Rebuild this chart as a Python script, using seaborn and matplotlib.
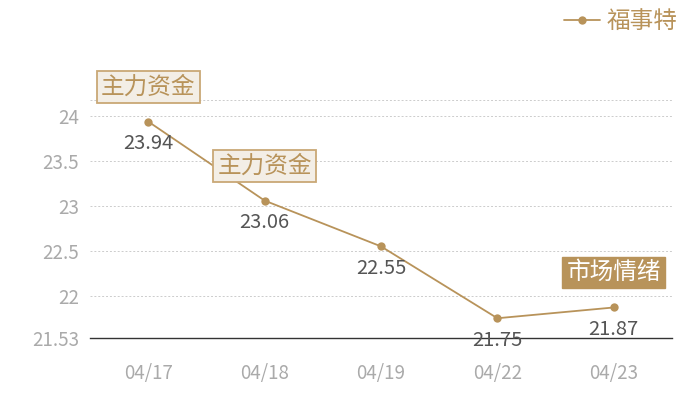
import matplotlib
matplotlib.use("Agg")
import matplotlib.pyplot as plt
import seaborn as sns
import pandas as pd

dates = ["04/17", "04/18", "04/19", "04/22", "04/23"]
prices = [23.94, 23.06, 22.55, 21.75, 21.87]
series_name = "福事特"
yticks = [21.53, 22, 22.5, 23, 23.5, 24]
ytick_labels = ["21.53", "22", "22.5", "23", "23.5", "24"]
events = [("04/17", "主力资金", "light"), ("04/18", "主力资金", "light"), ("04/23", "市场情绪", "dark")]

sns.set_theme(style="white")
plt.rcParams['font.family'] = ['Noto Sans CJK SC', 'DejaVu Sans']

GOLD = "#b8935a"
df = pd.DataFrame({"date": dates, "price": prices, "name": series_name})

fig = plt.figure(figsize=(7, 4), dpi=100)
ax = fig.add_axes([90/700, 1-338/400, 582/700, 238/400])

sns.lineplot(data=df, x="date", y="price", ax=ax, color=GOLD, marker="o",
             markersize=6, markeredgewidth=0, linewidth=1.3, label=series_name, sort=False)

ymin, ymax = 21.53, 24.18
ax.set_ylim(ymin, ymax)
ax.set_xlim(-0.5, len(dates) - 0.5)
ax.set_yticks(yticks)
ax.set_yticklabels(ytick_labels)
ax.set_xlabel("")
ax.set_ylabel("")
for v in yticks[1:] + [ymax]:
    ax.axhline(v, color="#cccccc", linewidth=0.7, linestyle=(0, (2, 2)), zorder=0)
for s in ["top", "right", "left"]:
    ax.spines[s].set_visible(False)
ax.spines["bottom"].set_color("#333333")
ax.spines["bottom"].set_linewidth(1)
ax.tick_params(axis="both", length=0, colors="#aaaaaa", labelsize=13.5)
ax.tick_params(axis="x", pad=18)
ax.tick_params(axis="y", pad=8)

for i, (d, p) in enumerate(zip(dates, prices)):
    ax.annotate(f"{p:.2f}", xy=(i, p), xytext=(0, -16), textcoords="offset points",
                ha="center", va="center", fontsize=14.5, color="#555555", annotation_clip=False)

for d, txt, kind in events:
    i = dates.index(d)
    p = prices[i]
    if kind == "light":
        bbox = dict(boxstyle="square,pad=0.18", fc="#f3eee6", ec="#c9a876", lw=1.3)
        col = GOLD
    else:
        bbox = dict(boxstyle="square,pad=0.18", fc=GOLD, ec=GOLD, lw=1)
        col = "white"
    ax.annotate(txt, xy=(i, p), xytext=(0, 25), textcoords="offset points",
                ha="center", va="center", fontsize=17, color=col, bbox=bbox,
                annotation_clip=False, zorder=5)

leg = ax.legend(loc="upper right", bbox_to_anchor=(692/700, 1.01), bbox_transform=fig.transFigure,
                frameon=False, fontsize=17, handlelength=1.5, handletextpad=0.3, borderaxespad=0.2)
for t in leg.get_texts():
    t.set_color(GOLD)

fig.savefig("out.png", dpi=100)
